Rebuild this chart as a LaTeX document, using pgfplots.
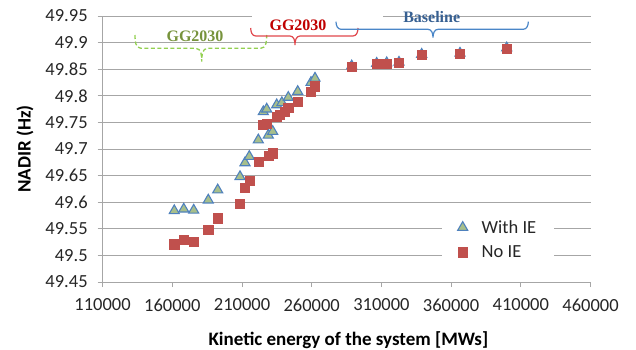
\documentclass[border=0pt]{standalone}
\usepackage{pgfplots}
\pgfplotsset{compat=1.18}
\usepackage{fontspec}
\setmainfont{Carlito}
\newfontfamily\tnr{Liberation Serif}
\definecolor{gridgray}{HTML}{A6A6A6}
\definecolor{triedge}{HTML}{4F81BD}
\definecolor{trifill}{HTML}{A7BF8C}
\definecolor{sqred}{HTML}{C0504D}
\definecolor{lbgreen}{HTML}{77933C}
\definecolor{brgreen}{HTML}{92D050}
\definecolor{lbred}{HTML}{C00000}
\definecolor{brred}{HTML}{E0474C}
\definecolor{lbblue}{HTML}{376092}
\definecolor{brblue}{HTML}{4A86C8}
\begin{document}
\begin{tikzpicture}[x=1pt,y=1pt]
\begin{axis}[
  at={(102.6pt,67pt)}, anchor=south west,
  scale only axis, width=487.9pt, height=266pt,
  xmin=110000, xmax=460000, ymin=49.45, ymax=49.95,
  xtick={110000,160000,210000,260000,310000,360000,410000,460000},
  xticklabels={110000,160000,210000,260000,310000,360000,410000,460000},
  ytick={49.45,49.5,49.55,49.6,49.65,49.7,49.75,49.8,49.85,49.9,49.95},
  yticklabels={49.45,49.5,49.55,49.6,49.65,49.7,49.75,49.8,49.85,49.9,49.95},
  scaled x ticks=false, scaled y ticks=false,
  axis lines=left,
  axis line style={draw=gridgray,line width=0.9pt,-},
  ymajorgrids, major grid style={draw=gridgray,line width=0.9pt},
  tick style={draw=gridgray,line width=0.9pt},
  tick align=outside, major tick length=5pt,
  ticklabel style={font=\fontsize{18.5}{20}\selectfont, text=black!85},
  xticklabel style={yshift=-8pt},
  yticklabel style={xshift=-6.4pt},
  xlabel={\bfseries Kinetic energy of the system [MWs]},
  ylabel={\bfseries NADIR (Hz)},
  label style={font=\fontsize{19}{21}\selectfont},
  xlabel style={at={(axis description cs:0.5038,0)}, anchor=base, yshift=-63pt},
  ylabel style={at={(axis description cs:0,0.5)}, anchor=center, yshift=77.6pt},
  clip=false,
  legend style={at={(0.6956,0.263)}, anchor=north west, draw=none, fill=white,
    font=\fontsize{18.5}{20}\selectfont, nodes={inner sep=2pt}, text=black!85,
    row sep=7pt, column sep=12pt, inner xsep=15.5pt, inner ysep=6pt},
  legend cell align=left,
]
\addplot[only marks, mark=triangle*, mark size=5.8pt,
  mark options={fill=trifill, draw=triedge, line width=1.1pt}] coordinates {
(161400,49.584) (168200,49.587) (175350,49.585) (185800,49.604) (192570,49.623)
(208570,49.648) (212150,49.674) (215240,49.686) (221700,49.717) (228870,49.726)
(232020,49.733) (225280,49.770) (227720,49.775) (234890,49.783) (238600,49.787)
(243210,49.797) (249960,49.808) (259500,49.825) (262370,49.833)
(288690,49.856) (306630,49.861) (313800,49.862) (322620,49.863)
(338910,49.878) (366380,49.880) (399890,49.890)
};
\addlegendentry{With IE}
\addplot[only marks, mark=square*, mark size=4.6pt,
  mark options={fill=sqred, draw=sqred}] coordinates {
(161400,49.521) (168200,49.530) (175350,49.526) (185800,49.548) (192570,49.570)
(208570,49.597) (212150,49.628) (215240,49.640) (221700,49.676) (228870,49.687)
(232020,49.692) (224600,49.746) (227720,49.748) (234890,49.760) (237270,49.764)
(240850,49.770) (243210,49.778) (249960,49.789) (259500,49.807) (262370,49.818)
(288690,49.855) (306630,49.860) (313800,49.861) (322620,49.862)
(338910,49.877) (366380,49.879) (399890,49.889)
};
\addlegendentry{No IE}
\end{axis}
% annotations (pixel coordinates, y up)
\fill[white] (252,328) rectangle (383,338);
\node[font=\tnr\bfseries\fontsize{16}{18}\selectfont, text=lbgreen] at (195,312.3) {GG2030};
\node[font=\tnr\bfseries\fontsize{16}{18}\selectfont, text=lbred] at (298,324) {GG2030};
\node[font=\tnr\bfseries\fontsize{16}{18}\selectfont, text=lbblue] at (431.7,332.3) {Baseline};
\draw[brgreen, line width=1.3pt, dash pattern=on 4pt off 2.5pt]
  (135,314) to[out=-90,in=180] (141,300.7) -- (195.7,300.7) to[out=0,in=90] (201.7,287.3)
  to[out=90,in=180] (207.7,300.7) -- (260.7,300.7) to[out=0,in=-90] (266.7,314);
\draw[brred, line width=1.2pt]
  (250.7,321) to[out=-90,in=180] (255.7,313) -- (290,313) to[out=0,in=90] (295,304)
  to[out=90,in=180] (300,313) -- (353,313) to[out=0,in=-90] (358,321);
\draw[brblue, line width=1.2pt]
  (336,327.3) to[out=-90,in=180] (341,319.7) -- (428,319.7) to[out=0,in=90] (433,311.3)
  to[out=90,in=180] (438,319.7) -- (523.3,319.7) to[out=0,in=-90] (528.3,327.3);
\pgfresetboundingbox
\useasboundingbox (0,0) rectangle (636,349);
\end{tikzpicture}
\end{document}
